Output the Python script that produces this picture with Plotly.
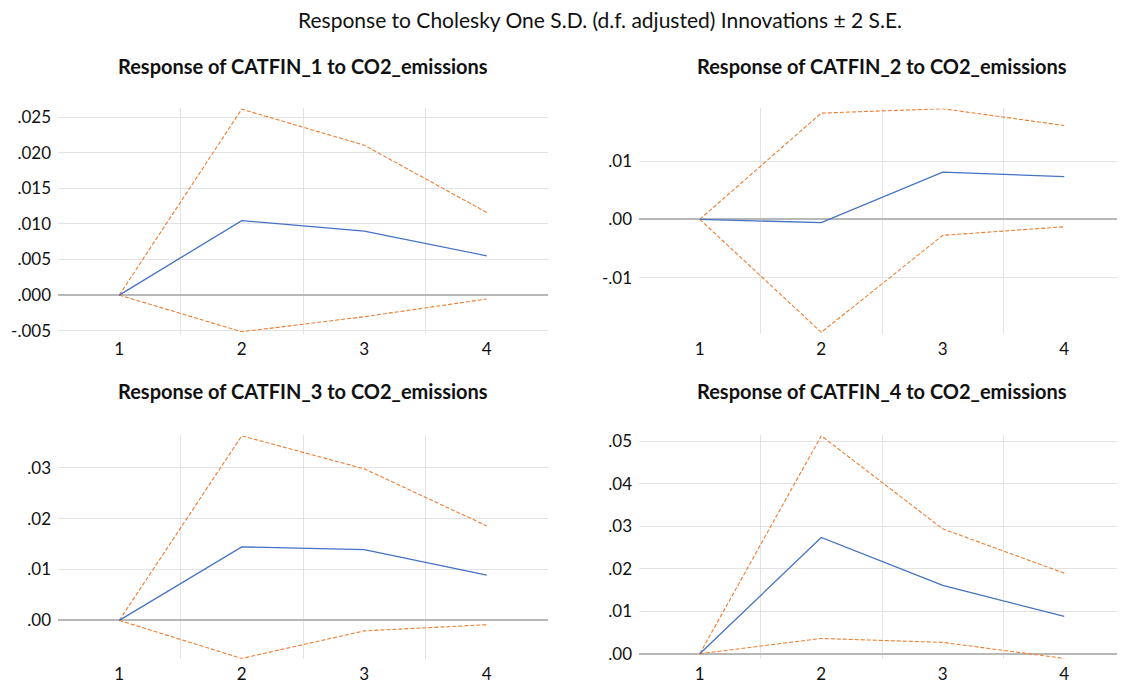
import plotly.graph_objects as go

# ---------------- data ----------------
periods = [1, 2, 3, 4]
period_labels = ["1", "2", "3", "4"]

catfin1_resp = [0.0, 0.01047, 0.00899, 0.00553]
catfin1_upper = [0.0, 0.02615, 0.02108, 0.01162]
catfin1_lower = [0.0, -0.00516, -0.00304, -0.00055]

catfin2_resp = [0.0, -0.00056, 0.00811, 0.00733]
catfin2_upper = [0.0, 0.01824, 0.01899, 0.01611]
catfin2_lower = [0.0, -0.01940, -0.00275, -0.00128]

catfin3_resp = [0.0, 0.01444, 0.01393, 0.00890]
catfin3_upper = [0.0, 0.03630, 0.02980, 0.01858]
catfin3_lower = [0.0, -0.00749, -0.00207, -0.00085]

catfin4_resp = [0.0, 0.02738, 0.01611, 0.00880]
catfin4_upper = [0.0, 0.05130, 0.02940, 0.01898]
catfin4_lower = [0.0, 0.00361, 0.00269, -0.00109]

panel_titles = [
    "Response of CATFIN_1 to CO2_emissions",
    "Response of CATFIN_2 to CO2_emissions",
    "Response of CATFIN_3 to CO2_emissions",
    "Response of CATFIN_4 to CO2_emissions",
]
main_title = "Response to Cholesky One S.D. (d.f. adjusted) Innovations \u00b1 2 S.E."

y1_tickvals = [-0.005, 0.0, 0.005, 0.010, 0.015, 0.020, 0.025]
y1_ticktext = ["-.005", ".000", ".005", ".010", ".015", ".020", ".025"]
y2_tickvals = [-0.01, 0.0, 0.01]
y2_ticktext = ["-.01", ".00", ".01"]
y3_tickvals = [0.0, 0.01, 0.02, 0.03]
y3_ticktext = [".00", ".01", ".02", ".03"]
y4_tickvals = [0.0, 0.01, 0.02, 0.03, 0.04, 0.05]
y4_ticktext = [".00", ".01", ".02", ".03", ".04", ".05"]

y1_range = [-0.00548, 0.02625]
y2_range = [-0.0197, 0.01904]
y3_range = [-0.00755, 0.03638]
y4_range = [-0.00116, 0.0514]

# ---------------- layout geometry ----------------
# page has an 8px body margin, so the figure is drawn 8px in from the window edge
OFF = 8
W, H = 1125 - OFF, 692 - OFF


def xp(px):
    return (px - OFF) / W


def yp(py):
    return 1 - (py - OFF) / H


x_domains = [[xp(58), xp(548)], [xp(639), 1.0], [xp(58), xp(548)], [xp(639), 1.0]]
y_domains = [
    [yp(334.3), yp(105)],
    [yp(334.3), yp(105)],
    [yp(664.3), yp(437.3)],
    [yp(664.3), yp(437.3)],
]
title_y = [yp(62), yp(62), yp(392), yp(392)]

BLUE = "#4472C4"
ORANGE = "#ED7D31"
GRID = "#E3E3E3"
ZERO = "#B8B8B8"
FONT = "Lato"
TXT = "#111111"

panels = [
    (catfin1_resp, catfin1_upper, catfin1_lower, y1_tickvals, y1_ticktext, y1_range),
    (catfin2_resp, catfin2_upper, catfin2_lower, y2_tickvals, y2_ticktext, y2_range),
    (catfin3_resp, catfin3_upper, catfin3_lower, y3_tickvals, y3_ticktext, y3_range),
    (catfin4_resp, catfin4_upper, catfin4_lower, y4_tickvals, y4_ticktext, y4_range),
]

fig = go.Figure()
layout_axes = {}
annotations = []

for i, (resp, up, lo, tv, tt, yr) in enumerate(panels):
    n = i + 1
    xa = "x" if n == 1 else f"x{n}"
    ya = "y" if n == 1 else f"y{n}"
    for series, color, dash, width in [
        (up, ORANGE, "4px,2px", 1.1),
        (lo, ORANGE, "4px,2px", 1.1),
        (resp, BLUE, "solid", 1.3),
    ]:
        fig.add_trace(go.Scatter(
            x=periods, y=series, mode="lines", xaxis=xa, yaxis=ya,
            line=dict(color=color, width=width, dash=dash),
            showlegend=False, hoverinfo="skip",
        ))
    xkey = "xaxis" if n == 1 else f"xaxis{n}"
    ykey = "yaxis" if n == 1 else f"yaxis{n}"
    layout_axes[xkey] = dict(
        domain=x_domains[i], anchor=ya, range=[0.5, 4.5],
        tickmode="array", tickvals=periods, ticktext=period_labels,
        showgrid=False, zeroline=False, showline=False, ticks="",
        ticklabelstandoff=3,
        tickfont=dict(family=FONT, size=17, color=TXT),
        minor=dict(tickmode="array", tickvals=[1.5, 2.5, 3.5], showgrid=True,
                   gridcolor=GRID, gridwidth=1, ticks=""),
        fixedrange=True,
    )
    layout_axes[ykey] = dict(
        domain=y_domains[i], anchor=xa, range=yr,
        tickmode="array", tickvals=tv, ticktext=tt,
        showgrid=True, gridcolor=GRID, gridwidth=1,
        zeroline=True, zerolinecolor=ZERO, zerolinewidth=1.6,
        showline=False, ticks="", ticklabelstandoff=6,
        tickfont=dict(family=FONT, size=17, color=TXT),
        fixedrange=True,
    )
    xc = (x_domains[i][0] + x_domains[i][1]) / 2
    annotations.append(dict(
        text=f"<b>{panel_titles[i]}</b>", xref="paper", yref="paper",
        x=xc, y=title_y[i], xanchor="center", yanchor="middle",
        showarrow=False, font=dict(family=FONT, size=20, color=TXT),
    ))

annotations.append(dict(
    text=main_title, xref="paper", yref="paper", x=xp(600), y=yp(15),
    xanchor="center", yanchor="middle", showarrow=False,
    font=dict(family=FONT, size=21, color=TXT),
))

fig.update_layout(
    width=W, height=H, margin=dict(l=0, r=0, t=0, b=0),
    paper_bgcolor="white", plot_bgcolor="white",
    annotations=annotations, showlegend=False,
    **layout_axes,
)

fig.write_html("out.html", config={"displayModeBar": False})
